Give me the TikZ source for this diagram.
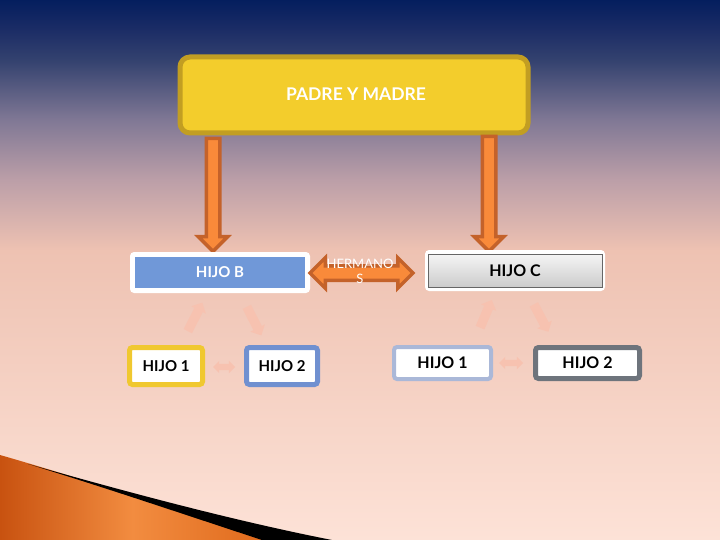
\documentclass[tikz,border=0pt]{standalone}
\usepackage{fontspec}
\setmainfont{Lato}
\usetikzlibrary{shapes.arrows}
\definecolor{navy}{HTML}{041E5E}
\definecolor{navyb}{HTML}{1C2D66}
\definecolor{navymid}{HTML}{34426F}
\definecolor{mauve}{HTML}{807895}
\definecolor{rose}{HTML}{BC9FA8}
\definecolor{peach}{HTML}{EEC2B2}
\definecolor{peachlight}{HTML}{FDE2D7}
\definecolor{gold}{HTML}{F3CD2C}
\definecolor{goldedge}{HTML}{C29E22}
\definecolor{orangefill}{HTML}{F98A3A}
\definecolor{orangeedge}{HTML}{C4622A}
\definecolor{hblue}{HTML}{7098D8}
\definecolor{faint}{HTML}{F7C2B0}
\definecolor{yellowedge}{HTML}{F0C830}
\definecolor{blueedge}{HTML}{7090D0}
\definecolor{paleedge}{HTML}{AAB8D8}
\definecolor{grayedge}{HTML}{6E747C}
\definecolor{wedgedark}{HTML}{C85210}
\definecolor{wedgemid}{HTML}{F28C40}
\definecolor{wedgeend}{HTML}{E06A1C}
\pgfdeclareverticalshading{bgshade}{100bp}{color(0bp)=(peachlight); color(25bp)=(peachlight); color(51.85bp)=(peach); color(58.3bp)=(rose); color(63.9bp)=(mauve); color(69.4bp)=(navymid); color(72.2bp)=(navyb); color(75bp)=(navy); color(100bp)=(navy)}
\tikzset{
  bigarrow/.style={single arrow, draw=orangeedge, fill=orangefill, line width=3.5pt, inner sep=5pt, single arrow head extend=8pt, single arrow tip angle=90, minimum width=0pt},
  fainthead/.style={single arrow, fill=faint, inner sep=4.5pt, single arrow head extend=3.5pt, single arrow tip angle=90, minimum width=0pt},
  faintdouble/.style={double arrow, fill=faint, inner sep=3pt, double arrow head extend=3pt, double arrow tip angle=90, minimum width=0pt},
  smallbox/.style={rounded corners=3pt, fill=white, line width=5pt, font=\bfseries\fontsize{15}{15}\selectfont, text=black, inner sep=0pt},
}
\begin{document}
\begin{tikzpicture}[x=1pt,y=-1pt]
\useasboundingbox (0,0) rectangle (720,540);
\shade[shading=bgshade] (0,0) rectangle (720,540);
% bottom-left decoration
\shade[left color=wedgedark, right color=wedgeend, middle color=wedgemid] (0,455) .. controls (80,478) and (180,510) .. (265,540) -- (0,540) -- cycle;
\fill[black] (28,464) .. controls (120,490) and (230,520) .. (332,540) -- (262,540) .. controls (180,513) and (100,486) .. (28,464) -- cycle;
% top box
\node[draw=goldedge, fill=gold, line width=5pt, rounded corners=10pt, minimum width=348pt, minimum height=76pt, inner sep=0pt] (pm) at (354,95) {};
\node[text=white, font=\bfseries\fontsize{17.5}{17.5}\selectfont] (pmt) at (356,94) {PADRE Y MADRE};
% big arrows
\node[bigarrow, rotate=-90, minimum height=113pt] (arrL) at (213,191.5) {};
\node[bigarrow, rotate=-90, minimum height=115pt] (arrR) at (489,190.5) {};
% HIJO B
\node[fill=white, rounded corners=4pt, minimum width=180pt, minimum height=41pt, inner sep=0pt] (hb) at (220,272.5) {};
\node[fill=hblue, minimum width=170pt, minimum height=31pt, inner sep=0pt, text=white, font=\bfseries\fontsize{15}{15}\selectfont] (hbin) at (220,272.5) {HIJO B};
% HIJO C
\node[fill=white, rounded corners=4pt, minimum width=180pt, minimum height=41pt, inner sep=0pt] (hc) at (515,270.5) {};
\node[draw=gray!80!black, line width=0.8pt, top color=gray!8, bottom color=gray!40, minimum width=174pt, minimum height=33pt, inner sep=0pt, text=black, font=\bfseries\fontsize{16}{16}\selectfont] (hcin) at (515,270.5) {HIJO C};
% hermanos
\node[double arrow, draw=orangeedge, fill=orangefill, line width=3.5pt, inner sep=5.5pt, double arrow head extend=8pt, double arrow tip angle=90, minimum width=0pt, minimum height=103pt] (herm) at (361.5,273) {};
\node[text=white, align=center, font=\fontsize{13}{15}\selectfont] (hermt) at (360,271) {HERMANO\\S};
% children boxes
\node[smallbox, draw=yellowedge, minimum width=73pt, minimum height=37pt] (b1) at (166,366) {HIJO 1};
\node[smallbox, draw=blueedge, minimum width=71pt, minimum height=37pt] (b2) at (282,366) {HIJO 2};
\node[smallbox, draw=paleedge, line width=4pt, minimum width=97pt, minimum height=32pt, font=\bfseries\fontsize{16}{16}\selectfont] (c1) at (442.5,363) {HIJO 1};
\node[smallbox, draw=grayedge, minimum width=104pt, minimum height=31pt, font=\bfseries\fontsize{16}{16}\selectfont] (c2) at (587.5,363) {HIJO 2};
% faint arrows
\node[fainthead, rotate=63, minimum height=32pt] (fl1) at (194,319) {};
\node[fainthead, rotate=-63, minimum height=32pt] (fl2) at (253,319) {};
\node[faintdouble, minimum height=22pt] (fl3) at (224,367) {};
\node[fainthead, rotate=67, minimum height=30pt] (fr1) at (485,316) {};
\node[fainthead, rotate=-62, minimum height=31pt] (fr2) at (540,316) {};
\node[faintdouble, minimum height=24pt] (fr3) at (511,363) {};
\end{tikzpicture}
\end{document}
